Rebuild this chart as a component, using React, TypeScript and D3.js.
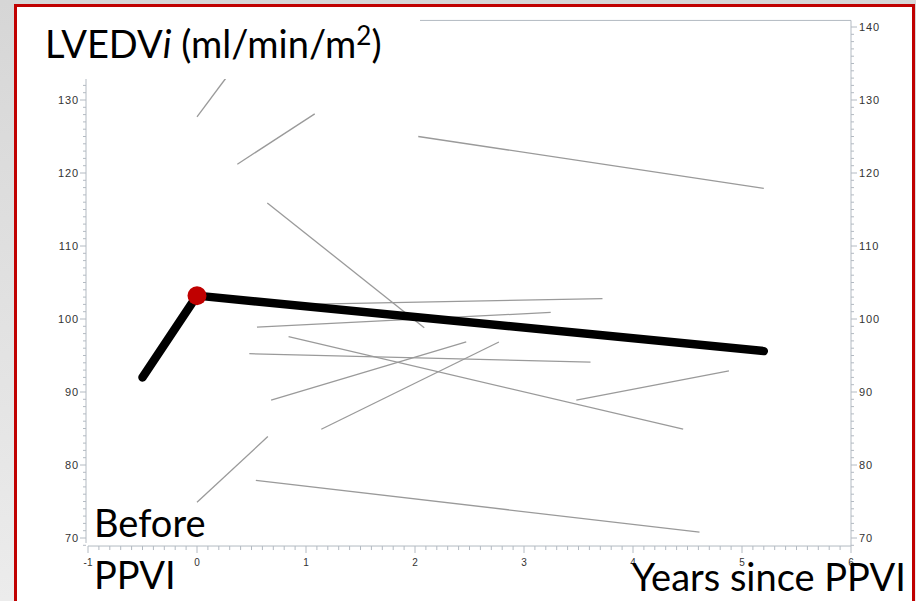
import * as d3 from 'd3'

// ── Data ────────────────────────────────────────────────────────────────────
const xTicks = [-1, 0, 1, 2, 3, 4, 5, 6]
const yTicks = [70, 80, 90, 100, 110, 120, 130, 140]

// individual patients: start/end of each follow-up segment
const subjStartYear = [0, 0.37, 2.03, 0.645, 0.6, 0.55, 0.84, 0.48, 0.68, 1.14, 3.48, 0, 0.54]
const subjStartValue = [127.7, 121.2, 125.0, 115.9, 101.9, 98.9, 97.6, 95.25, 88.9, 84.9, 88.9, 74.9, 77.9]
const subjEndYear = [0.3, 1.08, 5.2, 2.085, 3.72, 3.245, 4.46, 3.61, 2.47, 2.77, 4.88, 0.65, 4.61]
const subjEndValue = [133.7, 128.1, 117.9, 98.8, 102.8, 100.9, 84.9, 94.1, 96.85, 96.85, 92.9, 83.9, 70.8]

// group mean trajectory
const meanYear = [-0.5, 0, 5.2]
const meanValue = [92.0, 103.2, 95.6]

const AXIS = '#b3bac2'
const TICK_TEXT = '#333'
const TEXT_FONT = 'Lato, "Open Sans", sans-serif'
const TICK_FONT = '"Liberation Sans", Arial, sans-serif'

export default function App() {
  const W = 916
  const H = 601

  const x = d3.scaleLinear([-1, 6], [88, 851])
  const y = d3.scaleLinear([70, 130], [538, 100])

  const frameTop = y(140.9)
  const frameBottom = y(68.9)
  const frameLeft = 86
  const frameRight = x(6)

  const minorX = d3.range(-10, 61).map(i => i / 10).filter(v => !xTicks.includes(v))
  const minorY = d3.range(69, 141).filter(v => !yTicks.includes(v))

  const meanLine = d3.line<number>()
    .x((_, i) => x(meanYear[i]))
    .y(d => y(d))(meanValue) ?? ''

  return (
    <svg width={W} height={H} style={{ position: 'absolute', left: 0, top: 0 }}>
      <defs>
        <linearGradient id="bg" x1="0" x2="0" y1="0" y2="1">
          <stop offset="0" stopColor="#d6d6d6" />
          <stop offset="1" stopColor="#ececec" />
        </linearGradient>
      </defs>
      <rect width={W} height={H} fill="url(#bg)" />
      <rect x={15.5} y={5.5} width={898} height={H} fill="#fff" stroke="#c00000" strokeWidth={3} />

      {/* frame */}
      <line x1={frameLeft} x2={frameRight} y1={frameTop} y2={frameTop} stroke={AXIS} />
      <line x1={frameLeft} x2={frameLeft} y1={frameTop} y2={frameBottom - 3} stroke={AXIS} />
      <line x1={frameRight} x2={frameRight} y1={frameTop} y2={frameBottom} stroke={AXIS} />
      <line x1={frameLeft + 2} x2={frameRight} y1={frameBottom} y2={frameBottom} stroke={AXIS} />

      {/* y axes ticks */}
      {minorY.map(v => (
        <g key={`my${v}`}>
          <line x1={frameLeft - 3} x2={frameLeft} y1={y(v)} y2={y(v)} stroke={AXIS} />
          <line x1={frameRight} x2={frameRight + 3} y1={y(v)} y2={y(v)} stroke={AXIS} />
        </g>
      ))}
      {yTicks.map(v => (
        <g key={`y${v}`}>
          <line x1={frameLeft - 6} x2={frameLeft} y1={y(v)} y2={y(v)} stroke={AXIS} />
          <line x1={frameRight} x2={frameRight + 6} y1={y(v)} y2={y(v)} stroke={AXIS} />
          {v <= 130 && (
            <text x={frameLeft - 7} y={y(v)} dy="0.35em" textAnchor="end" fontSize={11}
              letterSpacing={0.9} fill={TICK_TEXT} fontFamily={TICK_FONT}>{v}</text>
          )}
          <text x={frameRight + 8} y={y(v)} dy="0.35em" textAnchor="start" fontSize={11}
            letterSpacing={0.9} fill={TICK_TEXT} fontFamily={TICK_FONT}>{v}</text>
        </g>
      ))}

      {/* x axis ticks */}
      {minorX.map(v => (
        <line key={`mx${v}`} x1={x(v)} x2={x(v)} y1={frameBottom} y2={frameBottom + 4} stroke={AXIS} />
      ))}
      {xTicks.map(v => (
        <g key={`x${v}`}>
          <line x1={x(v)} x2={x(v)} y1={frameBottom} y2={frameBottom + 7} stroke={AXIS} />
          <text x={x(v)} y={frameBottom + 20} textAnchor="middle" fontSize={10}
            fill={TICK_TEXT} fontFamily={TICK_FONT}>{v}</text>
        </g>
      ))}

      {/* individual patients */}
      {subjStartYear.map((sx, i) => (
        <line key={`s${i}`}
          x1={x(sx)} y1={y(subjStartValue[i])}
          x2={x(subjEndYear[i])} y2={y(subjEndValue[i])}
          stroke="#9a9a9a" strokeWidth={1.3} />
      ))}

      {/* mean */}
      <path d={meanLine} fill="none" stroke="#000" strokeWidth={8.5}
        strokeLinecap="round" strokeLinejoin="round" />
      <circle cx={x(meanYear[1])} cy={y(meanValue[1])} r={9.5} fill="#c00000" />

      {/* title box covers the plot top-left */}
      <rect x={17} y={7} width={403} height={72} fill="#fff" />
      <text x={45} y={58} fontSize={38} fontFamily={TEXT_FONT} fill="#000">
        LVEDV<tspan fontStyle="italic">i</tspan> (ml/min/m<tspan fontSize={26} dy={-13}>2</tspan><tspan dy={13}>)</tspan>
      </text>

      <text x={94} y={537} fontSize={38} fontFamily={TEXT_FONT} fill="#000">Before</text>
      <text x={94} y={589} fontSize={38} fontFamily={TEXT_FONT} fill="#000">PPVI</text>
      <text x={906} y={591} textAnchor="end" fontSize={38} fontFamily={TEXT_FONT} fill="#000">Years since PPVI</text>
    </svg>
  )
}
